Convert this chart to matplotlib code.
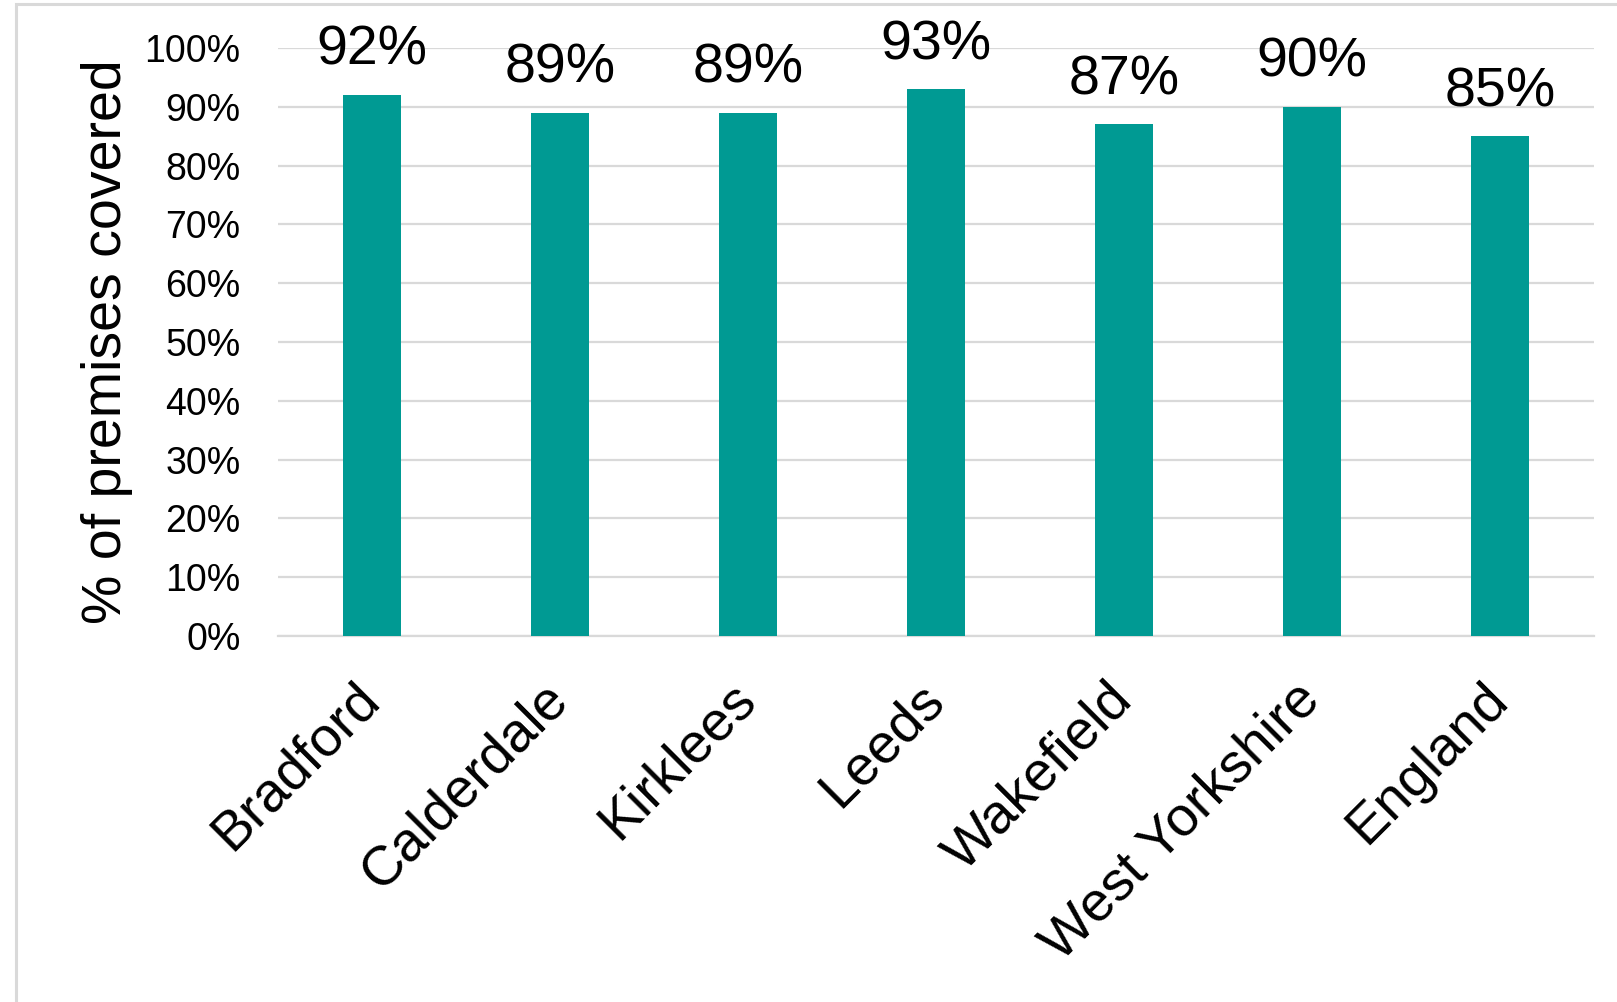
import matplotlib
matplotlib.use("Agg")
import matplotlib.pyplot as plt
from matplotlib.patches import Rectangle
from matplotlib.ticker import FuncFormatter

plt.rcParams['font.family'] = ['Liberation Sans', 'DejaVu Sans']

areas = ["Bradford", "Calderdale", "Kirklees", "Leeds", "Wakefield",
         "West Yorkshire", "England"]
coverage = [92, 89, 89, 93, 87, 90, 85]
y_ticks = [0, 10, 20, 30, 40, 50, 60, 70, 80, 90, 100]

W, H = 1617, 1002
fig = plt.figure(figsize=(W / 100, H / 100), dpi=100)
fig.patch.set_facecolor("white")

# light frame around the chart area
fig.patches.append(Rectangle((16 / W, -0.1), 1.2, 1 - 4 / H + 0.1,
                             transform=fig.transFigure, fill=False,
                             edgecolor="#D9D9D9", linewidth=2.2))

ax = fig.add_axes([278 / W, 1 - 636 / H, (1594 - 278) / W, (636 - 48) / H])
x = list(range(len(areas)))
ax.bar(x, coverage, width=0.31, color="#009A93", zorder=3)

for xi, v in zip(x, coverage):
    ax.annotate(f"{v}%", (xi, v), xytext=(0, 13), textcoords="offset points",
                ha="center", va="bottom", fontsize=40, color="black")

ax.set_xlim(-0.5, len(areas) - 0.5)
ax.set_ylim(0, 100)
ax.set_yticks(y_ticks)
ax.yaxis.set_major_formatter(FuncFormatter(lambda v, p: f"{v:.0f}%"))
ax.grid(axis="y", color="#D9D9D9", linewidth=1.6, zorder=0)
for s in ["top", "right", "left"]:
    ax.spines[s].set_visible(False)
ax.spines["bottom"].set_color("#D9D9D9")
ax.spines["bottom"].set_linewidth(1.6)
ax.tick_params(axis="y", length=0, pad=27, labelsize=27)
ax.tick_params(axis="x", length=0, pad=40)
ax.set_xticks(x)
ax.set_xticklabels(areas, rotation=45, ha="right", va="center",
                   rotation_mode="anchor", fontsize=40)
ax.set_ylabel("% of premises covered", fontsize=40, labelpad=8)

fig.savefig("out.png", dpi=100, facecolor="white")
